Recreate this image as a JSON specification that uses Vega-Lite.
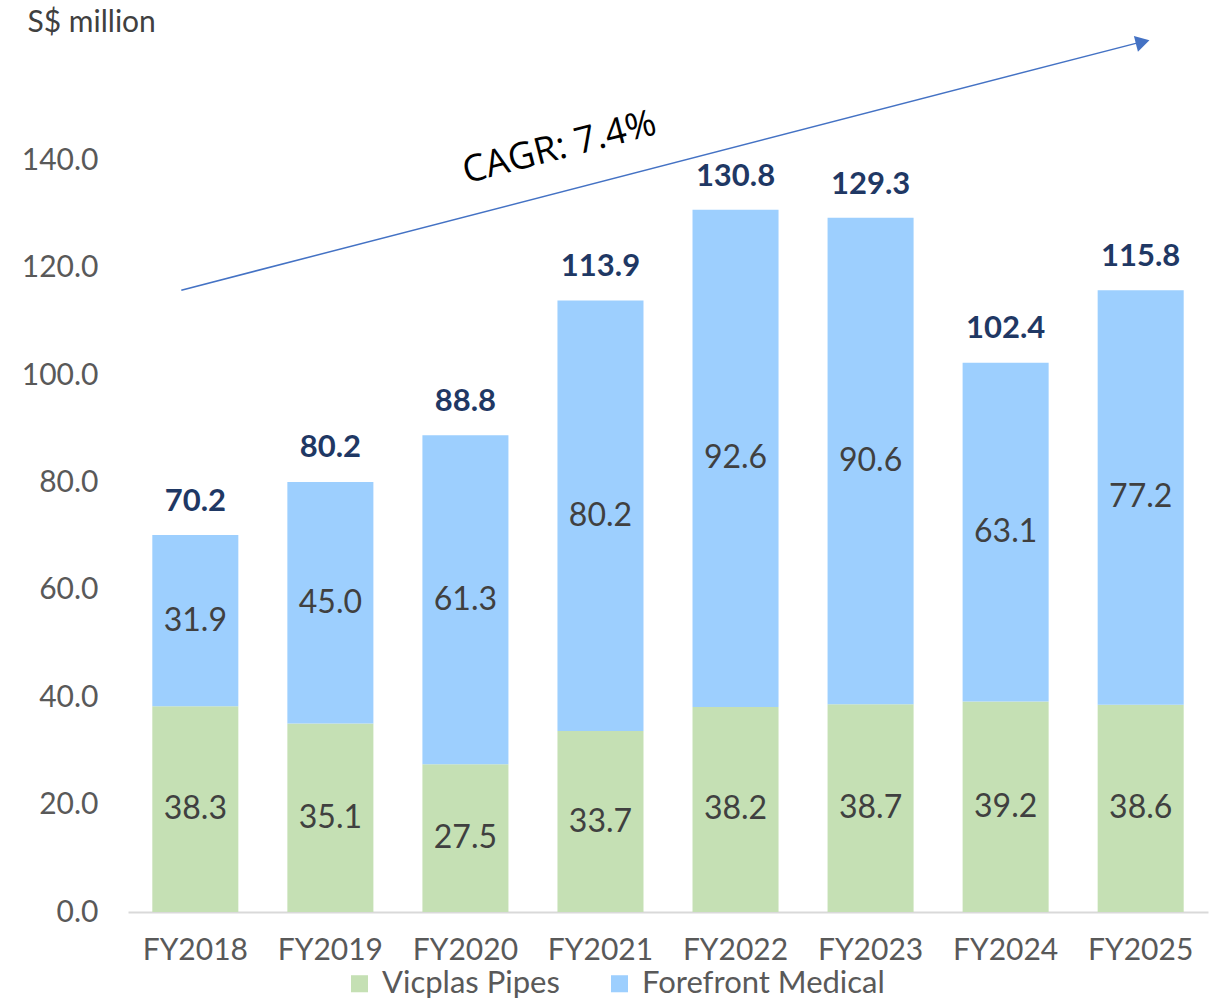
{
  "$schema": "https://vega.github.io/schema/vega-lite/v6.json",
  "width": 1080,
  "height": 886,
  "autosize": {"type": "none"},
  "padding": {"left": 128, "top": 26, "right": 4, "bottom": 89},
  "background": "white",
  "config": {"view": {"stroke": null}, "font": "Lato"},
  "datasets": {
    "rev": [
      {"year": "FY2018", "segment": "Vicplas Pipes", "value": 38.3},
      {"year": "FY2018", "segment": "Forefront Medical", "value": 31.9},
      {"year": "FY2019", "segment": "Vicplas Pipes", "value": 35.1},
      {"year": "FY2019", "segment": "Forefront Medical", "value": 45.0},
      {"year": "FY2020", "segment": "Vicplas Pipes", "value": 27.5},
      {"year": "FY2020", "segment": "Forefront Medical", "value": 61.3},
      {"year": "FY2021", "segment": "Vicplas Pipes", "value": 33.7},
      {"year": "FY2021", "segment": "Forefront Medical", "value": 80.2},
      {"year": "FY2022", "segment": "Vicplas Pipes", "value": 38.2},
      {"year": "FY2022", "segment": "Forefront Medical", "value": 92.6},
      {"year": "FY2023", "segment": "Vicplas Pipes", "value": 38.7},
      {"year": "FY2023", "segment": "Forefront Medical", "value": 90.6},
      {"year": "FY2024", "segment": "Vicplas Pipes", "value": 39.2},
      {"year": "FY2024", "segment": "Forefront Medical", "value": 63.1},
      {"year": "FY2025", "segment": "Vicplas Pipes", "value": 38.6},
      {"year": "FY2025", "segment": "Forefront Medical", "value": 77.2}
    ],
    "totals": [
      {"year": "FY2018", "total": 70.2},
      {"year": "FY2019", "total": 80.2},
      {"year": "FY2020", "total": 88.8},
      {"year": "FY2021", "total": 113.9},
      {"year": "FY2022", "total": 130.8},
      {"year": "FY2023", "total": 129.3},
      {"year": "FY2024", "total": 102.4},
      {"year": "FY2025", "total": 115.8}
    ],
    "arrow": [
      {"from": "FY2018", "to": "FY2025", "y0": 115.8, "y1": 162.0, "label": "CAGR: 7.4%", "labelYear": "FY2021", "labelY": 142.3}
    ]
  },
  "encoding": {
    "x": {
      "field": "year",
      "type": "nominal",
      "sort": null,
      "scale": {"paddingInner": 0.363, "paddingOuter": 0.18},
      "axis": {
        "title": null,
        "labelAngle": 0,
        "labelFontSize": 30,
        "labelColor": "#595959",
        "labelPadding": 23,
        "ticks": false,
        "domainColor": "#D9D9D9",
        "domainWidth": 2
      }
    }
  },
  "layer": [
    {
      "data": {"name": "rev"},
      "mark": {"type": "bar"},
      "encoding": {
        "y": {
          "field": "value",
          "type": "quantitative",
          "stack": "zero",
          "scale": {"domain": [0, 165], "nice": false},
          "axis": {
            "values": [0, 20, 40, 60, 80, 100, 120, 140],
            "format": ".1f",
            "grid": false,
            "ticks": false,
            "domain": false,
            "labelFontSize": 30,
            "labelColor": "#595959",
            "labelPadding": 30,
            "title": "S$ million",
            "titleAngle": 0,
            "titleX": -101,
            "titleY": -4,
            "titleAlign": "left",
            "titleBaseline": "middle",
            "titleFontSize": 30,
            "titleFontWeight": "normal",
            "titleColor": "#404040"
          }
        },
        "color": {
          "field": "segment",
          "type": "nominal",
          "scale": {"domain": ["Vicplas Pipes", "Forefront Medical"], "range": ["#C5E0B4", "#9DCFFE"]},
          "legend": {
            "title": null,
            "orient": "none",
            "legendX": 216,
            "legendY": 942,
            "direction": "horizontal",
            "symbolType": "square",
            "symbolSize": 290,
            "symbolStrokeWidth": 0,
            "labelFontSize": 31,
            "labelColor": "#595959",
            "labelLimit": 400,
            "labelOffset": 7,
            "columnPadding": 44,
            "symbolOffset": 0
          }
        },
        "order": {"field": "segment", "sort": "descending"}
      }
    },
    {
      "data": {"name": "rev"},
      "transform": [
        {"stack": "value", "groupby": ["year"], "sort": [{"field": "segment", "order": "descending"}], "as": ["v0", "v1"]},
        {"calculate": "(datum.v0 + datum.v1) / 2", "as": "mid"}
      ],
      "mark": {"type": "text", "fontSize": 32, "color": "#404040", "baseline": "middle"},
      "encoding": {
        "y": {"field": "mid", "type": "quantitative"},
        "text": {"field": "value", "type": "quantitative", "format": ".1f"}
      }
    },
    {
      "data": {"name": "totals"},
      "mark": {"type": "text", "fontSize": 31, "fontWeight": "bold", "color": "#1F3864", "baseline": "middle", "dy": -33},
      "encoding": {
        "y": {"field": "total", "type": "quantitative"},
        "text": {"field": "total", "type": "quantitative", "format": ".1f"}
      }
    },
    {
      "data": {"name": "arrow"},
      "mark": {"type": "rule", "color": "#4472C4", "strokeWidth": 1.5, "xOffset": -14, "x2Offset": 0},
      "encoding": {
        "x": {"field": "from", "type": "nominal", "sort": null},
        "x2": {"field": "to"},
        "y": {"field": "y0", "type": "quantitative"},
        "y2": {"field": "y1"}
      }
    },
    {
      "data": {"name": "arrow"},
      "mark": {"type": "point", "shape": "triangle-right", "filled": true, "color": "#4472C4", "size": 260, "angle": 345.5, "opacity": 1, "xOffset": 2},
      "encoding": {
        "x": {"field": "to", "type": "nominal", "sort": null},
        "y": {"field": "y1", "type": "quantitative"}
      }
    },
    {
      "data": {"name": "arrow"},
      "mark": {"type": "text", "fontSize": 37, "color": "#000000", "angle": 345.5, "baseline": "middle", "align": "center", "xOffset": -41, "font": "Open Sans"},
      "encoding": {
        "x": {"field": "labelYear", "type": "nominal", "sort": null},
        "y": {"field": "labelY", "type": "quantitative"},
        "text": {"field": "label"}
      }
    }
  ]
}
